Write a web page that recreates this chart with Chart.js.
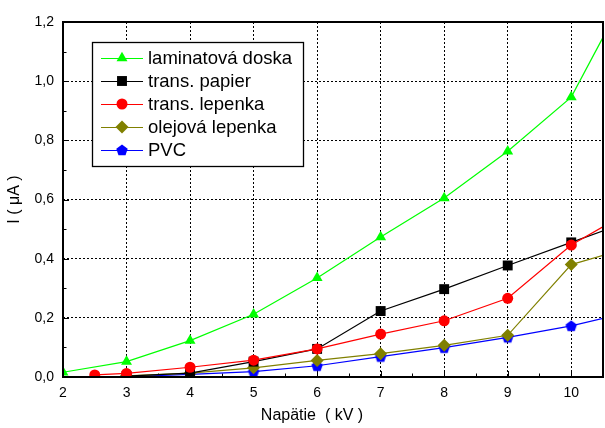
<!DOCTYPE html>
<html>
<head>
<meta charset="utf-8">
<script src="https://cdn.jsdelivr.net/npm/chart.js@4/dist/chart.umd.min.js"></script>
<style>
html,body{margin:0;padding:0;background:#fff;}
canvas{display:block;}
</style>
</head>
<body>
<canvas id="c" width="605" height="428"></canvas>
<script>
// ---- data ----
const seriesNames = ['laminatová doska', 'trans. papier', 'trans. lepenka', 'olejová lepenka', 'PVC'];
const xLaminat = [2, 3, 4, 5, 6, 7, 8, 9, 10, 11];
const yLaminat = [0.016, 0.052, 0.123, 0.212, 0.335, 0.473, 0.605, 0.763, 0.946, 1.35];
const xPapier = [3, 4, 5, 6, 7, 8, 9, 10, 11];
const yPapier = [0.003, 0.013, 0.052, 0.095, 0.223, 0.297, 0.377, 0.455, 0.533];
const xLepenka = [2.5, 3, 4, 5, 6, 7, 8, 9, 10, 11];
const yLepenka = [0.007, 0.012, 0.033, 0.057, 0.095, 0.145, 0.19, 0.266, 0.446, 0.57];
const xOlej = [3, 4, 5, 6, 7, 8, 9, 10, 11];
const yOlej = [0.004, 0.013, 0.031, 0.056, 0.079, 0.107, 0.141, 0.38, 0.442];
const xPVC = [3, 4, 5, 6, 7, 8, 9, 10, 11];
const yPVC = [0.001, 0.009, 0.018, 0.038, 0.069, 0.099, 0.134, 0.173, 0.223];
const xTicks = [2, 3, 4, 5, 6, 7, 8, 9, 10];
const yTicks = [0, 0.2, 0.4, 0.6, 0.8, 1.0, 1.2];
const xTitle = 'Napätie  ( kV )';
const yTitle = 'I ( μA )';

const pairs = (xs, ys) => xs.map((x, i) => ({x: x, y: ys[i]}));

// pentagon marker
function pentagon(color, r) {
  const s = Math.ceil(r * 2 + 2);
  const cv = document.createElement('canvas');
  cv.width = s; cv.height = s;
  const g = cv.getContext('2d');
  g.fillStyle = color;
  g.beginPath();
  for (let i = 0; i < 5; i++) {
    const a = -Math.PI / 2 + i * 2 * Math.PI / 5;
    const px = s / 2 + r * Math.cos(a), py = s / 2 + r * Math.sin(a) + 0.5;
    if (i === 0) g.moveTo(px, py); else g.lineTo(px, py);
  }
  g.closePath();
  g.fill();
  return cv;
}
const pentBlue = pentagon('#0000ff', 6);

const colors = ['#00ff00', '#000000', '#ff0000', '#808000', '#0000ff'];
const styles = ['triangle', 'rect', 'circle', 'rectRot', pentBlue];
const radii = [6.3, 7, 5.5, 6.5, 6];

const datasets = [
  {data: pairs(xLaminat, yLaminat), order: 0},
  {data: pairs(xPapier, yPapier), order: 2},
  {data: pairs(xLepenka, yLepenka), order: 1},
  {data: pairs(xOlej, yOlej), order: 3},
  {data: pairs(xPVC, yPVC), order: 4}
].map((d, i) => Object.assign(d, {
  label: seriesNames[i],
  borderColor: colors[i],
  backgroundColor: colors[i],
  pointBackgroundColor: colors[i],
  pointBorderColor: colors[i],
  pointBorderWidth: 0,
  pointStyle: styles[i],
  pointRadius: radii[i],
  borderWidth: 1.2,
  tension: 0,
  fill: false
}));

const decor = {
  id: 'decor',
  beforeDatasetsDraw(chart) {
    const {ctx, chartArea: a, scales: {x, y}} = chart;
    ctx.save();
    ctx.strokeStyle = '#000';
    ctx.lineWidth = 1;
    // inward ticks, major and minor
    for (let v = 2; v <= 10.5 + 1e-9; v += 0.5) {
      const px = Math.round(x.getPixelForValue(v)) + 0.5;
      const len = Math.abs(v - Math.round(v)) < 1e-6 ? 6 : 3.5;
      ctx.beginPath(); ctx.moveTo(px, a.bottom); ctx.lineTo(px, a.bottom - len); ctx.stroke();
    }
    for (let k = 0; k <= 12; k++) {
      const v = k / 10;
      const py = Math.round(y.getPixelForValue(v)) + 0.5;
      const len = k % 2 === 0 ? 6 : 3.5;
      ctx.beginPath(); ctx.moveTo(a.left, py); ctx.lineTo(a.left + len, py); ctx.stroke();
    }
    ctx.restore();
  },
  afterDatasetsDraw(chart) {
    const {ctx, chartArea: a} = chart;
    ctx.save();
    // frame
    ctx.strokeStyle = '#000';
    ctx.lineWidth = 2;
    ctx.strokeRect(a.left, a.top, a.right - a.left, a.bottom - a.top);
    // legend box
    const bx = 92, by = 42, bw = 211, bh = 124;
    ctx.fillStyle = '#fff';
    ctx.fillRect(bx, by, bw, bh);
    ctx.lineWidth = 1.3;
    ctx.strokeRect(bx + 0.5, by + 0.5, bw, bh);
    ctx.font = '18.5px "Liberation Sans", Arial, sans-serif';
    ctx.textBaseline = 'middle';
    ctx.textAlign = 'left';
    chart.data.datasets.forEach((ds, i) => {
      const ry = 58 + i * 23;
      ctx.strokeStyle = ds.borderColor;
      ctx.lineWidth = 1.2;
      ctx.beginPath(); ctx.moveTo(101, ry + 0.5); ctx.lineTo(143, ry + 0.5); ctx.stroke();
      ctx.fillStyle = ds.pointBackgroundColor;
      ctx.strokeStyle = ds.pointBorderColor;
      Chart.helpers.drawPoint(ctx, {pointStyle: ds.pointStyle, radius: ds.pointRadius, borderWidth: 0, rotation: 0}, 122, ry);
      ctx.fillStyle = '#000';
      ctx.fillText(ds.label, 148, ry + 1);
    });
    // x axis title
    ctx.font = '16px "Liberation Sans", Arial, sans-serif';
    ctx.textAlign = 'center';
    ctx.fillStyle = '#000';
    ctx.fillText(xTitle, 312, 416);
    ctx.restore();
  }
};

new Chart(document.getElementById('c'), {
  type: 'line',
  data: {datasets: datasets},
  options: {
    responsive: false,
    animation: false,
    devicePixelRatio: 1,
    layout: {autoPadding: false, padding: {top: 22, right: 2, left: 0, bottom: 0}},
    plugins: {legend: {display: false}, tooltip: {enabled: false}},
    scales: {
      x: {
        type: 'linear',
        min: 2, max: 10.5,
        afterBuildTicks: s => { s.ticks = xTicks.map(v => ({value: v})); },
        afterFit: s => { s.height = 51; s.paddingLeft = 0; s.paddingRight = 0; },
        ticks: {
          padding: 8,
          color: '#000',
          font: {family: '"Liberation Sans", Arial, sans-serif', size: 14},
          callback: v => String(v)
        },
        grid: {color: '#000', lineWidth: 1, drawTicks: false},
        border: {display: false, dash: [2, 2]}
      },
      y: {
        type: 'linear',
        min: 0, max: 1.2,
        afterBuildTicks: s => { s.ticks = yTicks.map(v => ({value: v})); },
        afterFit: s => { s.width = 63; s.paddingTop = 0; s.paddingBottom = 0; },
        ticks: {
          padding: 9,
          color: '#000',
          font: {family: '"Liberation Sans", Arial, sans-serif', size: 14},
          callback: v => Number(v).toFixed(1).replace('.', ',')
        },
        title: {
          display: true,
          text: yTitle,
          color: '#000',
          padding: {top: 5, bottom: 0},
          font: {family: '"Liberation Sans", Arial, sans-serif', size: 16}
        },
        grid: {color: '#000', lineWidth: 1, drawTicks: false},
        border: {display: false, dash: [2, 2]}
      }
    }
  },
  plugins: [decor]
});
</script>
</body>
</html>
